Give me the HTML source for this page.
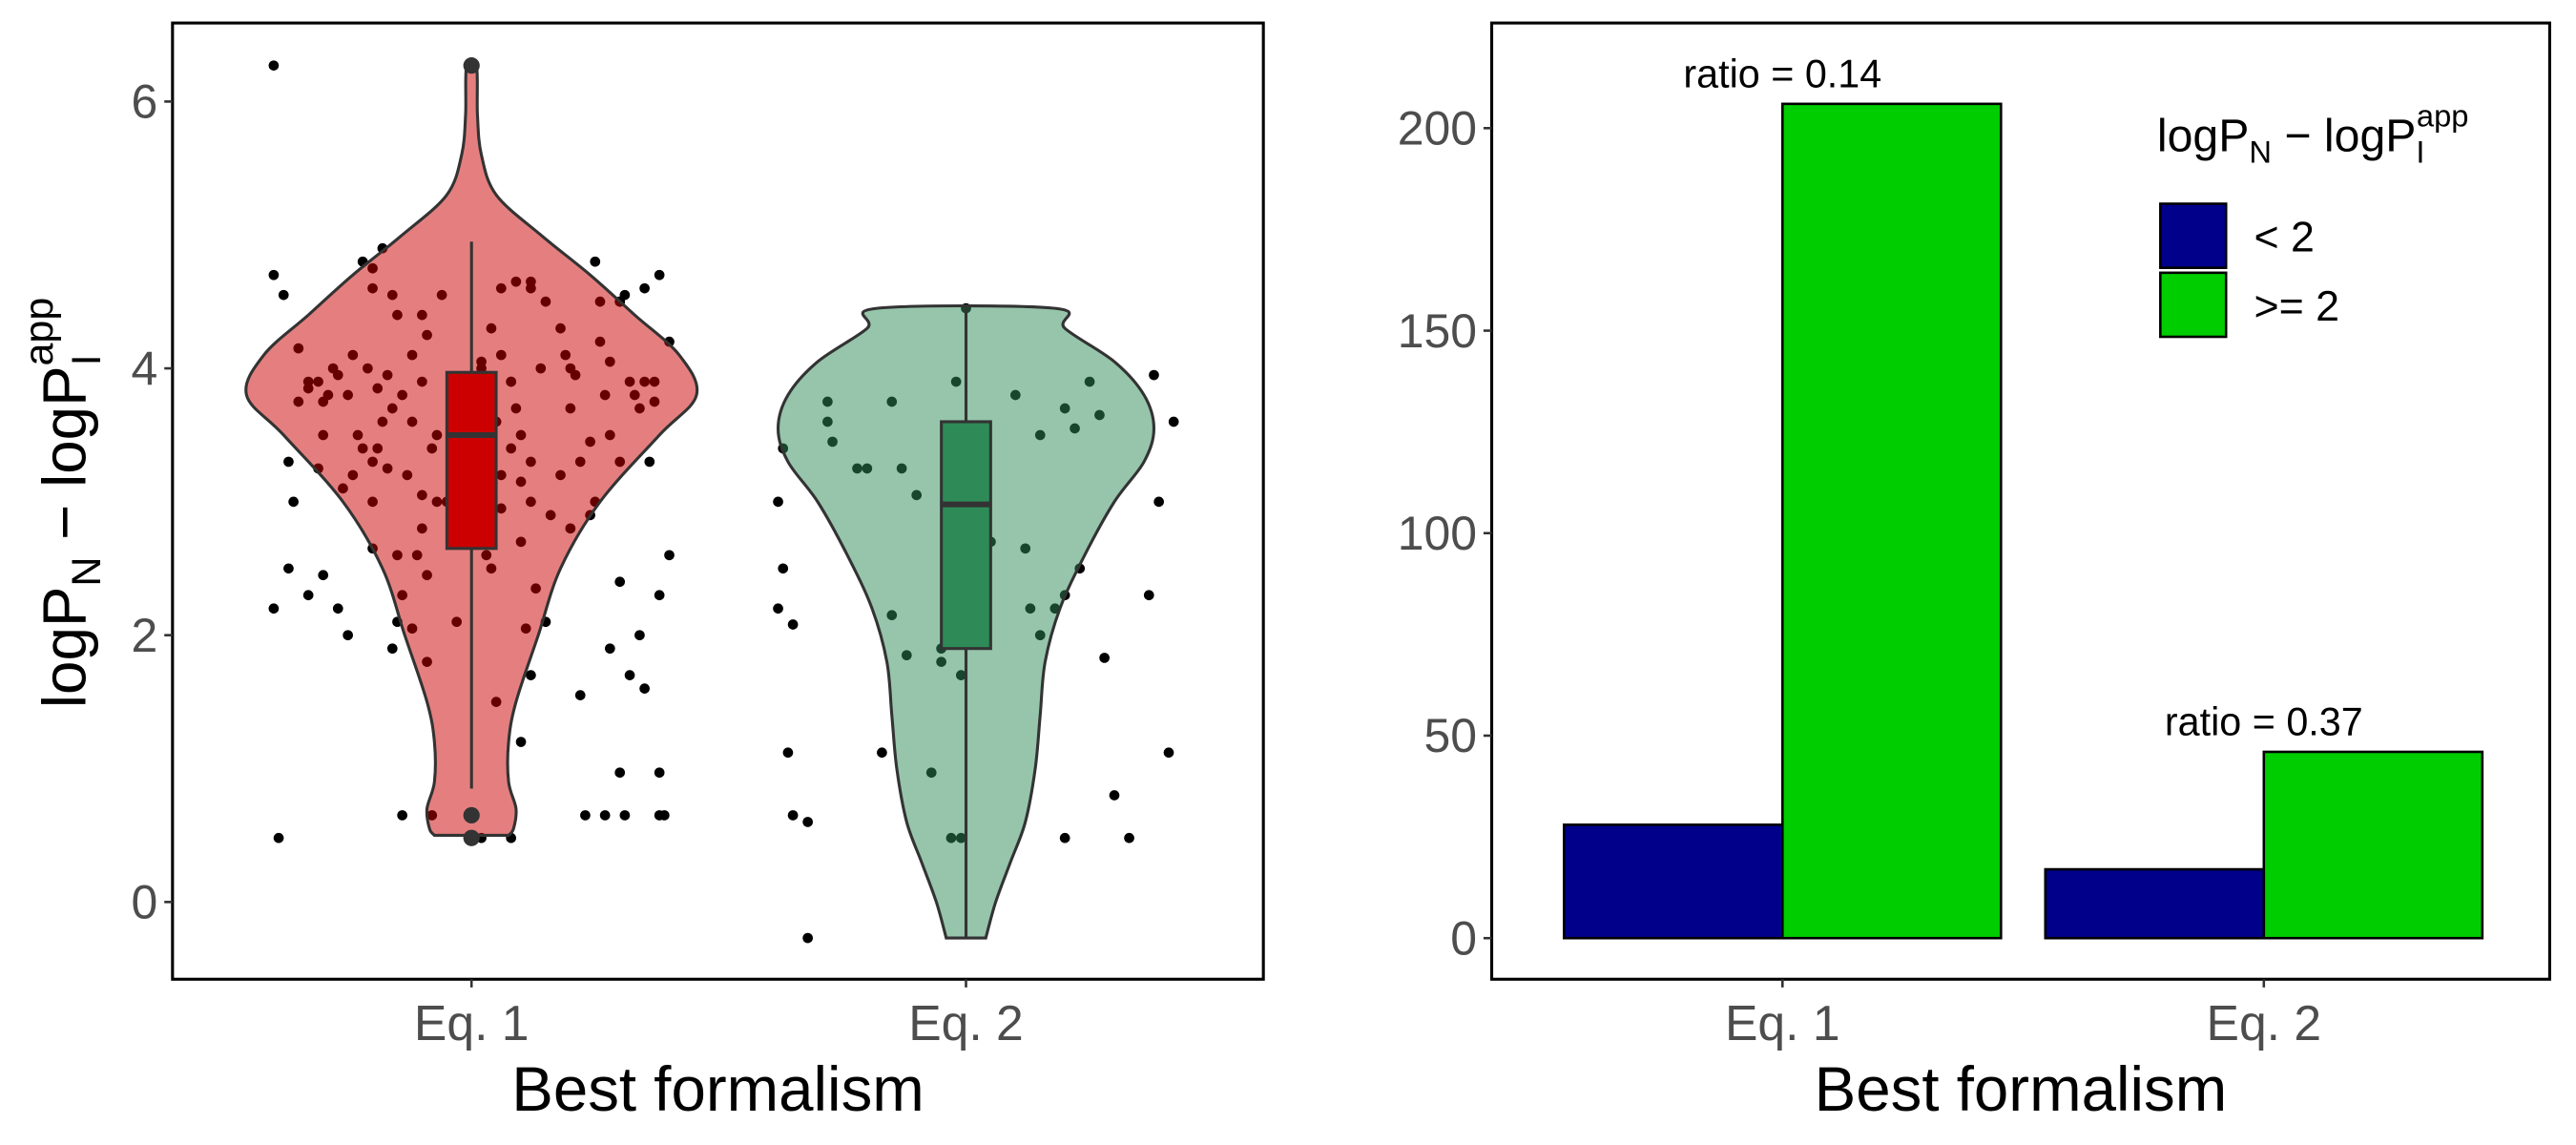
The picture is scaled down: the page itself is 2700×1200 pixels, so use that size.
<!DOCTYPE html>
<html><head><meta charset="utf-8"><style>
html,body{margin:0;padding:0;background:#fff;}
svg{display:block;font-family:"Liberation Sans",Arial,sans-serif;}
</style></head><body>
<svg id="chart" width="2700" height="1200" viewBox="0 0 1568 696.9" xmlns="http://www.w3.org/2000/svg">
<g id="left"></g>
<g id="right"></g>
</svg>
<script>
// ---------- data ----------
const categories = ["Eq. 1","Eq. 2"];
const yTicksL = [0,2,4,6];
const yTicksR = [0,50,100,150,200];
const violinY1 = [0.5,0.55,0.7,0.9,1.2,1.5,2.0,2.5,3.0,3.5,3.8,4.1,4.4,4.7,5.0,5.3,5.6,5.9,6.27];
const violinW1 = [0.075,0.085,0.09,0.075,0.075,0.09,0.135,0.18,0.26,0.38,0.455,0.42,0.33,0.24,0.14,0.05,0.02,0.012,0.01];
const violinY2 = [-0.27,0,0.3,0.6,1.0,1.4,1.8,2.2,2.6,3.0,3.3,3.55,3.8,4.05,4.3,4.45];
const violinW2 = [0.04,0.06,0.09,0.12,0.14,0.15,0.16,0.19,0.24,0.3,0.36,0.38,0.36,0.3,0.2,0.18];
const box1 = [0.85,2.65,3.5,3.97,4.95];
const box2 = [-0.27,1.9,2.98,3.6,4.45];
const outliers1 = [0.65,0.48,6.27];
const outliers2 = [];
const pts1 = [[-0.4,4.7],[-0.38,4.55],[-0.35,4.15],[-0.33,3.9],[-0.3,3.75],[-0.37,3.3],[-0.4,2.2],[-0.37,2.5],[-0.33,2.3],[-0.3,2.45],[-0.27,2.2],[-0.25,2.0],[-0.36,3.0],[-0.31,3.25],[-0.22,4.8],[-0.2,4.6],[-0.18,4.9],[-0.15,4.4],[-0.12,4.1],[-0.1,3.9],[-0.08,3.4],[-0.05,3.0],[-0.15,2.6],[-0.2,2.65],[-0.12,2.05],[-0.09,1.8],[-0.16,1.9],[-0.39,0.48],[-0.14,0.65],[-0.08,0.65],[0.02,0.48],[0.08,0.48],[0.05,1.5],[0.1,1.2],[0.1,2.7],[0.12,3.3],[0.08,3.9],[0.12,4.6],[0.18,4.3],[0.2,3.7],[0.2,4.0],[0.15,2.1],[0.12,1.7],[0.25,4.8],[0.3,4.5],[0.28,3.5],[0.25,3.0],[0.3,2.4],[0.28,1.9],[0.23,0.65],[0.3,0.97],[0.22,1.55],[0.35,4.6],[0.38,4.7],[0.33,3.8],[0.36,3.3],[0.38,2.3],[0.34,2.0],[0.4,2.6],[0.38,0.97],[0.27,0.65],[0.31,0.65],[0.38,0.65],[0.39,0.65],[0.4,4.2],[0.37,3.9],[0.15,4.5],[-0.25,3.8],[-0.28,4.0],[0.05,3.6],[-0.03,3.7],[-0.2,3.3],[0.32,1.7],[0.35,1.6],[-0.4,6.27],[-0.23,3.5],[-0.18,3.6],[-0.1,2.8],[0.18,3.2],[0.26,4.2],[-0.26,3.1],[0.02,4.0],[-0.06,4.55],[0.16,2.9],[0.3,3.3],[-0.3,3.5],
[-0.35,3.75],[-0.33,3.85],[-0.31,3.9],[-0.29,3.8],[-0.27,3.95],[-0.24,4.1],[-0.21,4.0],[-0.19,3.85],[-0.17,3.95],[-0.16,3.7],[-0.14,3.8],[-0.12,3.6],[-0.1,4.4],[-0.09,4.25],[-0.07,3.5],[-0.04,3.35],[-0.22,3.4],[-0.19,3.4],[-0.17,3.25],[-0.24,3.2],[-0.13,3.2],[-0.07,3.0],[-0.1,3.05],[-0.2,3.0],[-0.14,2.3],[-0.09,2.45],[-0.11,2.6],[-0.15,2.1],[-0.2,4.75],[-0.16,4.55],[0.04,4.3],[0.06,4.6],[0.09,4.65],[0.12,4.65],[0.06,4.1],[0.09,3.7],[0.1,3.5],[0.12,3.0],[0.1,3.15],[0.08,3.4],[0.06,3.2],[0.04,2.5],[0.11,2.05],[0.13,2.35],[0.03,2.6],[0.19,4.1],[0.21,3.95],[0.22,3.3],[0.24,3.45],[0.27,3.8],[0.28,4.05],[0.31,4.55],[0.3,4.5],[0.26,4.5],[0.32,3.9],[0.35,3.9],[0.34,3.7],[0.37,3.75],[0.24,2.9],[0.2,2.8],[0.14,4.0],[0.08,3.9],[0.02,4.05],[-0.03,2.1],[0.06,2.95],[-0.02,3.9]];
const pts2 = [[-0.37,3.4],[-0.38,3.0],[-0.37,2.5],[-0.38,2.2],[-0.35,2.08],[-0.36,1.12],[-0.35,0.65],[-0.32,0.6],[-0.32,-0.27],[-0.28,3.75],[-0.28,3.6],[-0.27,3.45],[-0.22,3.25],[-0.2,3.25],[-0.17,1.12],[-0.15,3.75],[-0.15,2.15],[-0.13,3.25],[-0.1,3.05],[-0.12,1.85],[-0.07,0.97],[-0.05,1.9],[-0.05,1.8],[-0.03,0.48],[-0.02,3.9],[-0.01,0.48],[-0.01,1.7],[0,4.45],[0.05,2.7],[0.04,3.3],[0.1,3.8],[0.12,2.65],[0.15,3.5],[0.2,3.7],[0.18,2.2],[0.22,3.55],[0.25,3.9],[0.2,2.3],[0.2,0.48],[0.27,3.65],[0.23,2.5],[0.28,1.83],[0.3,0.8],[0.33,0.48],[0.38,3.95],[0.42,3.6],[0.39,3.0],[0.37,2.3],[0.41,1.12],[0.13,2.2],[0.15,2.0]];
const barLow = [28,17];
const barHigh = [206,46];
const ratioLabels = ["ratio = 0.14","ratio = 0.37"];

// ---------- helpers ----------
const NS="http://www.w3.org/2000/svg";
function mk(tag,parent,attrs){const e=document.createElementNS(NS,tag);for(const k in attrs)e.setAttribute(k,attrs[k]);parent.appendChild(e);return e;}
const L=document.getElementById('left'), R=document.getElementById('right');

// ---------- left panel ----------
const lx0=105,lx1=769,ly0=14,ly1=596;
const yL=v=>549-v*81.2;
const xL=(i,off)=>287+i*301+off*301;
const catW=301;
function drawPts(pts,i){pts.forEach(p=>{const c=mk('circle',L,{cx:xL(i,p[0]),cy:yL(p[1]),r:3.1,fill:'#000'});

});}
drawPts(pts1,0);drawPts(pts2,1);
function violinPath(ys,ws,i){
  const c=xL(i,0);let right=[],left=[];
  for(let k=0;k<ys.length;k++){right.push([c+ws[k]*catW,yL(ys[k])]);left.push([c-ws[k]*catW,yL(ys[k])]);}
  const pts=right.concat(left.reverse());
  let d='M'+pts[0][0]+','+pts[0][1];
  for(let k=0;k<pts.length-1;k++){
    const p0=pts[Math.max(k-1,0)],p1=pts[k],p2=pts[k+1],p3=pts[Math.min(k+2,pts.length-1)];
    const c1=[p1[0]+(p2[0]-p0[0])/6,p1[1]+(p2[1]-p0[1])/6],c2=[p2[0]-(p3[0]-p1[0])/6,p2[1]-(p3[1]-p1[1])/6];
    d+=' C'+c1[0]+','+c1[1]+' '+c2[0]+','+c2[1]+' '+p2[0]+','+p2[1];
  }
  return d+'Z';
}
const v1=mk('path',L,{d:violinPath(violinY1,violinW1,0),fill:'#cc0000','fill-opacity':0.5,stroke:'#333',"stroke-width":1.8});

const v2=mk('path',L,{d:violinPath(violinY2,violinW2,1),fill:'#2e8b57','fill-opacity':0.5,stroke:'#333',"stroke-width":1.8});

function drawBox(b,i,col,outs){
  const c=xL(i,0),hw=15;
  const g=mk('g',L,{});
  
  mk('line',g,{x1:c,x2:c,y1:yL(b[0]),y2:yL(b[4]),stroke:'#333','stroke-width':1.8});
  mk('rect',g,{x:c-hw,y:yL(b[3]),width:2*hw,height:yL(b[1])-yL(b[3]),fill:col,stroke:'#333','stroke-width':1.8});
  mk('line',g,{x1:c-hw,x2:c+hw,y1:yL(b[2]),y2:yL(b[2]),stroke:'#333','stroke-width':3.5});
  outs.forEach(o=>mk('circle',g,{cx:c,cy:yL(o),r:5,fill:'#333'}));
}
drawBox(box1,0,'#cc0000',outliers1);drawBox(box2,1,'#2e8b57',outliers2);
const fL=mk('rect',L,{x:lx0,y:ly0,width:lx1-lx0,height:ly1-ly0,fill:'none',stroke:'#000','stroke-width':1.8});

yTicksL.forEach(t=>{mk('line',L,{x1:lx0-5,x2:lx0,y1:yL(t),y2:yL(t),stroke:'#333','stroke-width':1.5});
const tx=mk('text',L,{x:lx0-9,y:yL(t)+10,'text-anchor':'end','font-size':29,fill:'#4d4d4d'});tx.textContent=t;
});
categories.forEach((c,i)=>{mk('line',L,{x1:xL(i,0),x2:xL(i,0),y1:ly1,y2:ly1+5,stroke:'#333','stroke-width':1.5});
const tx=mk('text',L,{x:xL(i,0),y:ly1+37,'text-anchor':'middle','font-size':30,fill:'#4d4d4d'});tx.textContent=c;
});
const xtL=mk('text',L,{x:(lx0+lx1)/2,y:676,'text-anchor':'middle','font-size':38,fill:'#000'});xtL.textContent='Best formalism';

const yt=mk('text',L,{transform:'translate(52,306) rotate(-90)','text-anchor':'middle','font-size':37,fill:'#000'});
yt.innerHTML='logP<tspan font-size="25" dy="9">N</tspan><tspan dy="-9"> − logP</tspan><tspan font-size="25" dy="9">I</tspan><tspan font-size="25" dx="-7" dy="-29">app</tspan>';


// ---------- right panel ----------
const rx0=908,rx1=1552,ry0=14,ry1=596;
const yR=v=>571-v*2.465;
const xC=i=>1085+i*293;
const bw=133;
categories.forEach((c,i)=>{
  const b1=mk('rect',R,{x:xC(i)-bw,y:yR(barLow[i]),width:bw,height:yR(0)-yR(barLow[i]),fill:'#00008b',stroke:'#000','stroke-width':1.5});
  
  const b2=mk('rect',R,{x:xC(i),y:yR(barHigh[i]),width:bw,height:yR(0)-yR(barHigh[i]),fill:'#00cd00',stroke:'#000','stroke-width':1.5});
  
  const t=mk('text',R,{x:xC(i),y:yR(barHigh[i])-10,'text-anchor':'middle','font-size':24,fill:'#000'});t.textContent=ratioLabels[i];
  
});
const fR=mk('rect',R,{x:rx0,y:ry0,width:rx1-rx0,height:ry1-ry0,fill:'none',stroke:'#000','stroke-width':1.8});

yTicksR.forEach(t=>{mk('line',R,{x1:rx0-5,x2:rx0,y1:yR(t),y2:yR(t),stroke:'#333','stroke-width':1.5});
const tx=mk('text',R,{x:rx0-9,y:yR(t)+10,'text-anchor':'end','font-size':29,fill:'#4d4d4d'});tx.textContent=t;
});
categories.forEach((c,i)=>{mk('line',R,{x1:xC(i),x2:xC(i),y1:ry1,y2:ry1+5,stroke:'#333','stroke-width':1.5});
const tx=mk('text',R,{x:xC(i),y:ry1+37,'text-anchor':'middle','font-size':30,fill:'#4d4d4d'});tx.textContent=c;
});
const xtR=mk('text',R,{x:(rx0+rx1)/2,y:676,'text-anchor':'middle','font-size':38,fill:'#000'});xtR.textContent='Best formalism';

const lg=mk('g',R,{});
const lt=mk('text',lg,{x:1313,y:92,'font-size':28,fill:'#000'});
lt.innerHTML='logP<tspan font-size="19" dy="7">N</tspan><tspan dy="-7"> − logP</tspan><tspan font-size="19" dy="7">I</tspan><tspan font-size="19" dx="-5" dy="-22">app</tspan>';

[['#00008b','< 2',124],['#00cd00','>= 2',166]].forEach(e=>{
  const g=mk('g',lg,{});
  mk('rect',g,{x:1315,y:e[2],width:40,height:39,fill:e[0],stroke:'#000','stroke-width':1.5});
  const t=mk('text',g,{x:1372,y:e[2]+29,'font-size':26,fill:'#000'});t.textContent=e[1];
});
</script>
</body></html>
